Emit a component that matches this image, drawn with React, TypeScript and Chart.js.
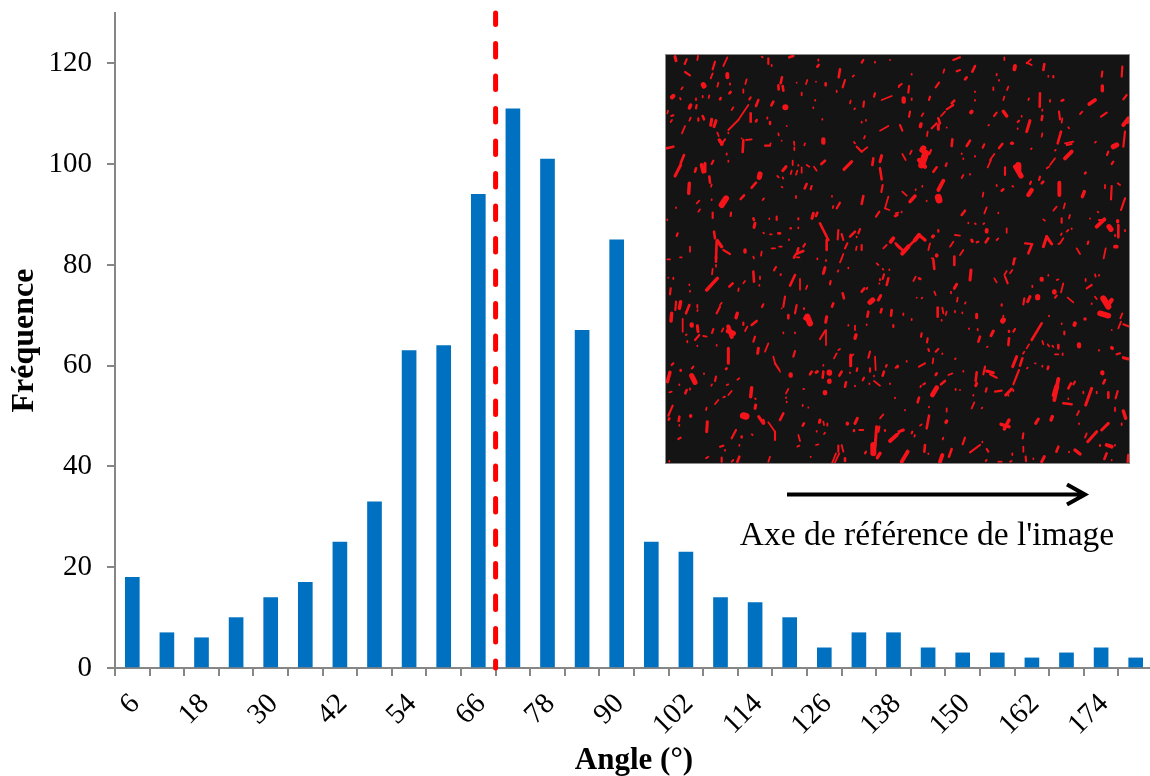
import React, { useEffect, useRef } from "react";
import { Chart, registerables } from "chart.js";

Chart.register(...registerables);

const angles = ["6","12","18","24","30","36","42","48","54","60","66","72","78","84","90","96","102","108","114","120","126","132","138","144","150","156","162","168","174","180"];
const frequencies = [18,7,6,10,14,17,25,33,63,64,94,111,101,67,85,25,23,14,13,10,4,7,7,4,3,3,2,3,4,2];
const referenceAngle = 69;
const yTop = 130;
const yLastTick = 120;
const yStep = 20;
const xTitle = "Angle (°)";
const yTitle = "Fréquence";
const caption = "Axe de référence de l'image";

// Speckles of the micrograph inset: x1,y1,x2,y2,width, on a 3x crop.
const specksA = [[45,20,48,32,7],[80,28,74,42,5],[114,18,112,30,4],[165,35,158,58,5],[202,22,190,48,4],[158,70,152,85,4],[75,66,90,76,5],[202,72,202,82,9],[130,104,132,108,12],[175,98,172,110,4],[210,100,210,104,4],[260,88,256,102,3],[250,118,250,128,4],[212,126,208,130,6],[68,112,64,118,3],[40,138,36,142,10],[60,144,62,148,3],[108,145,108,150,4],[148,136,146,144,4],[128,138,128,142,3],[182,144,180,148,6],[92,165,88,174,8],[110,165,108,175,5],[272,142,268,148,5],[295,150,288,168,6],[340,155,334,166,6],[366,82,362,100,6],[355,106,356,118,6],[368,108,370,122,6],[376,172,376,172,14],[220,172,215,180,4],[265,165,235,210,4],[235,210,205,240,4],[24,182,22,190,4],[40,196,34,198,5],[36,210,32,216,4],[92,203,88,212,3],[115,205,115,212,5],[128,198,132,208,6],[155,208,152,226,7],[168,212,162,230,7],[75,228,66,250,4],[272,190,272,215,6],[290,210,288,214,6],[322,202,322,206,4],[330,216,330,222,6],[172,248,176,258,3],[178,270,186,282,8],[195,268,183,284,5],[205,248,205,250,3],[250,270,248,306,6],[258,270,275,268,3],[245,265,245,265,3],[355,250,356,256,3],[380,228,380,228,3],[365,272,365,272,3],[315,287,330,287,5],[332,280,330,286,3],[20,295,40,290,6],[402,275,403,285,3],[403,292,403,300,3],[435,280,433,286,3],[490,268,490,278,10],[487,207,487,209,4],[465,150,466,152,3],[460,172,460,174,3],[425,128,425,136,3],[410,98,410,98,4],[442,90,438,102,4],[468,95,468,95,3],[497,100,497,106,6],[540,58,536,82,6],[582,76,578,80,3],[555,90,548,112,5],[530,122,530,126,3],[610,30,605,38,5],[645,35,645,38,3],[690,30,690,30,3],[475,28,475,32,4],[476,45,472,50,6],[325,25,325,42,5],[335,45,335,48,3],[305,20,308,22,3],[388,22,400,18,6],[645,130,642,140,5],[665,150,695,138,4],[572,152,570,160,4],[612,155,610,170,5],[585,175,583,178,3],[605,215,605,218,3],[618,210,618,212,3],[660,242,685,228,4],[718,106,716,112,3],[582,276,585,280,3],[590,290,605,305,5],[605,305,622,292,4],[615,258,612,265,4],[72,315,62,340,6],[62,345,45,378,7],[108,355,105,365,6],[125,345,130,365,9],[135,340,135,365,7],[160,332,155,342,5],[148,380,150,398,6],[155,403,153,410,4],[88,400,86,430,8],[200,310,200,314,2],[205,332,205,335,3],[378,350,368,362,7],[398,332,398,345,4],[415,345,415,347,3],[440,345,448,350,3],[462,350,470,362,3],[495,332,484,342,6],[425,352,425,368,2],[412,362,408,374,3],[395,362,392,372,3],[368,382,370,386,3],[352,378,356,382,3],[300,372,298,382,12],[288,398,275,413,6],[365,410,367,412,2],[440,402,434,415,6],[455,408,452,418,5],[575,335,552,358,7],[640,325,637,345,6],[665,317,660,335,7],[660,355,665,388,6],[668,405,664,426,5],[198,445,185,465,14],[252,436,242,447,6],[312,445,308,450,3],[408,438,408,444,3],[516,438,516,440,2],[540,458,530,475,5],[520,468,518,474,3],[610,438,605,462,6],[685,440,675,475,4],[675,475,688,480,4],[658,485,648,500,5],[712,495,705,498,6],[118,452,110,460,3],[120,478,115,485,3],[155,448,155,450,3],[48,472,48,474,4],[158,488,158,504,5],[213,488,212,498,5],[22,508,22,510,3],[280,505,282,510,6],[285,520,282,532,7],[328,505,328,507,3],[350,500,350,510,5],[392,535,392,535,6],[415,505,415,508,5],[415,532,415,535,3],[460,490,456,505,7],[472,488,468,498,6],[480,520,505,570,6],[500,570,500,600,6],[53,550,50,558,5],[162,545,165,565,6],[170,575,168,625,6],[172,572,185,590,8],[190,600,210,612,5],[255,600,255,606,8],[305,605,303,617,4],[280,620,282,625,3],[310,548,312,550,3],[330,553,335,553,3],[355,550,360,550,6],[387,568,387,570,3],[535,540,533,568,5],[545,552,550,570,5],[585,545,570,560,6],[600,537,595,550,5],[590,560,590,562,4],[562,580,555,595,5],[590,590,588,600,4],[605,585,605,600,5],[670,595,680,585,4],[700,565,692,575,9],[710,585,720,595,6],[335,595,345,595,4],[358,590,365,590,3],[435,582,430,590,5],[415,595,412,605,6],[430,603,408,612,6],[550,612,545,625,4],[472,625,472,628,3],[90,590,90,605,4],[22,628,30,628,3],[60,622,65,622,3],[410,622,418,622,3]];
const specksB = [[175,30,195,22,5],[328,22,328,30,3],[360,48,358,58,9],[395,38,410,45,3],[408,28,395,40,3],[448,42,445,60,6],[148,58,145,68,3],[195,60,185,64,5],[240,48,232,65,6],[215,82,210,88,6],[50,72,50,74,4],[305,72,305,76,3],[312,90,312,92,3],[475,78,475,82,5],[460,78,460,80,3],[622,65,620,80,5],[682,50,680,80,5],[20,102,12,108,5],[42,108,40,128,5],[132,98,122,112,5],[295,112,295,120,4],[340,110,336,120,4],[240,124,240,126,3],[622,108,622,122,8],[26,145,26,155,10],[50,145,50,150,4],[105,140,102,150,5],[240,150,240,152,4],[328,140,325,150,4],[435,130,434,170,6],[402,145,400,150,3],[465,150,465,155,3],[505,150,500,152,6],[600,150,583,162,9],[695,135,685,148,5],[178,152,170,160,6],[175,165,155,178,5],[150,185,138,198,3],[45,185,42,200,5],[85,190,80,198,4],[230,185,228,187,9],[305,188,297,198,5],[325,184,335,198,8],[442,178,442,182,4],[492,185,495,208,5],[502,205,500,218,3],[562,185,555,192,4],[635,188,618,200,5],[442,198,440,210,6],[380,198,380,200,4],[372,212,368,216,5],[405,212,395,245,7],[368,235,368,237,4],[15,225,22,242,5],[78,222,76,230,8],[130,205,135,220,6],[125,220,110,235,5],[130,225,130,238,7],[155,232,155,233,2],[98,245,96,258,4],[282,225,280,226,4],[442,250,440,260,3],[498,245,488,280,6],[520,232,522,235,3],[700,205,685,225,9],[698,205,698,218,6],[690,245,685,290,5],[665,285,655,290,12],[510,280,535,275,4],[515,285,530,282,3],[172,268,170,288,6],[225,272,215,288,6],[268,283,263,293,5],[322,282,312,294,6],[352,280,350,280,8],[410,295,408,297,3],[603,275,600,278,2],[220,280,218,282,3],[85,295,82,300,14],[92,310,80,345,16],[72,330,90,350,10],[108,300,103,312,5],[50,302,45,312,4],[22,312,32,330,4],[240,318,240,320,3],[200,310,200,312,2],[205,325,205,327,2],[298,312,285,330,4],[288,330,278,352,4],[530,305,510,325,9],[482,300,480,302,3],[480,325,465,345,4],[462,350,455,355,2],[640,305,636,315,5],[655,335,650,342,5],[155,340,152,348,5],[125,352,115,365,6],[362,350,378,378,12],[370,345,370,360,14],[330,352,330,375,5],[205,375,200,384,3],[225,372,225,374,2],[572,368,570,370,6],[435,380,432,390,5],[445,395,440,400,6],[408,395,405,402,5],[145,392,130,420,9],[305,405,305,408,3],[325,418,320,422,6],[352,408,355,410,3],[410,420,400,435,10],[493,398,493,435,9],[568,425,562,440,8],[650,408,648,448,5],[630,405,630,415,3],[668,400,675,405,3],[22,425,35,437,3],[62,418,62,420,2],[82,408,82,410,2],[60,438,45,455,8],[130,442,132,450,16],[95,452,95,453,2],[265,428,263,440,4],[690,445,678,480,5],[510,460,506,475,4],[485,470,475,482,3],[210,482,200,495,6],[275,472,268,490,4],[310,488,310,490,2],[2,490,10,488,4],[20,485,20,487,2],[445,508,450,512,4],[500,505,500,518,5],[525,495,522,505,3],[585,505,585,506,2],[608,485,610,487,3],[628,508,605,530,9],[612,510,630,510,5],[642,530,648,538,12],[668,512,668,515,8],[670,525,670,562,6],[690,540,690,544,3],[220,518,220,520,3],[240,520,242,522,3],[268,520,265,522,4],[275,540,275,545,9],[335,535,335,548,3],[310,565,305,570,4],[280,565,272,577,6],[250,575,245,577,5],[230,570,232,574,7],[520,540,515,545,3],[530,535,530,537,3],[500,550,498,555,3],[505,565,495,580,3],[580,575,578,582,5],[660,555,660,558,3],[665,590,660,590,9],[455,560,470,582,7],[455,560,445,590,7],[390,580,412,582,5],[410,585,400,610,6],[495,580,490,582,4],[545,595,555,612,4],[632,595,626,625,4],[72,555,60,570,10],[72,555,90,570,8],[60,570,40,590,6],[40,590,22,610,10],[2,580,22,600,6],[115,558,113,560,8],[130,540,130,545,5],[105,580,100,600,4],[180,555,195,557,2],[175,575,165,590,4],[205,600,195,615,3],[125,615,125,617,8],[110,625,115,625,3],[358,625,362,625,4]];
const specksC = [[168,5,168,20,6],[168,30,168,35,4],[158,42,156,58,4],[172,70,140,105,8],[40,68,40,72,3],[25,68,25,68,3],[32,100,30,118,5],[88,88,88,90,3],[90,108,90,110,2],[348,36,342,46,5],[362,58,362,60,5],[280,50,282,80,6],[300,65,300,72,3],[405,60,390,92,6],[420,72,420,104,3],[298,90,298,92,4],[255,78,250,85,3],[218,85,208,95,6],[236,100,235,108,3],[442,92,438,102,4],[405,2,402,8,6],[498,15,498,18,3],[495,38,490,55,7],[545,10,540,22,4],[565,38,565,40,3],[535,46,533,50,2],[512,78,510,88,5],[650,25,655,30,3],[668,42,670,44,2],[688,43,688,45,3],[672,58,668,72,5],[685,70,680,90,6],[660,72,660,76,3],[658,85,658,86,3],[613,100,605,110,6],[622,98,620,102,4],[548,115,552,130,6],[520,145,516,155,6],[662,122,655,135,7],[638,135,630,142,12],[48,140,46,165,5],[62,140,58,160,8],[88,150,78,175,6],[112,150,112,158,4],[113,165,112,168,3],[185,143,180,150,3],[180,155,170,175,5],[310,148,306,156,5],[375,125,370,155,5],[365,160,365,160,2],[410,150,405,175,5],[432,160,432,162,5],[385,180,385,190,6],[442,185,450,205,14],[435,190,445,195,9],[500,185,497,202,7],[232,175,228,188,8],[35,175,33,198,8],[68,192,68,230,4],[95,208,95,212,10],[112,212,114,230,7],[160,222,156,234,5],[190,220,185,230,3],[205,215,215,245,10],[205,228,220,235,12],[250,203,250,210,5],[290,198,275,210,6],[262,215,255,228,4],[285,245,280,260,5],[370,232,370,235,3],[405,232,405,235,3],[80,238,78,240,3],[118,240,105,255,5],[130,243,140,245,3],[82,258,82,262,3],[112,272,112,273,3],[170,270,170,272,2],[325,265,315,290,4],[295,280,293,295,7],[205,280,205,325,7],[200,340,198,342,6],[405,288,400,305,5],[340,305,345,325,3],[345,325,358,345,5],[360,350,360,350,3],[392,358,392,362,10],[498,225,498,270,4],[495,228,480,252,5],[565,210,565,212,3],[585,212,585,225,3],[588,240,585,250,8],[620,208,620,210,3],[625,170,622,185,6],[665,162,662,172,6],[695,165,693,182,6],[700,210,700,216,5],[540,282,535,285,3],[530,295,522,310,4],[572,300,572,332,7],[580,298,570,308,4],[630,290,625,308,5],[645,305,647,345,4],[490,330,490,332,3],[40,325,35,330,5],[100,335,96,340,5],[62,345,62,347,6],[30,352,22,380,8],[132,355,132,357,3],[95,362,105,382,12],[58,388,58,390,4],[168,365,165,378,5],[156,388,154,392,4],[238,370,232,374,3],[205,388,200,390,3],[90,400,90,404,3],[80,405,76,415,6],[35,410,28,412,2],[215,408,205,420,4],[195,425,190,427,3],[175,435,165,447,3],[275,398,272,425,8],[285,430,287,432,3],[385,402,378,415,4],[378,427,378,429,3],[430,402,432,402,3],[380,440,380,442,4],[287,450,285,460,7],[140,458,138,465,3],[38,452,25,482,5],[28,490,26,494,6],[58,485,56,498,6],[92,482,92,484,8],[58,510,58,512,2],[250,482,258,484,16],[296,485,310,505,7],[310,495,312,505,6],[325,502,345,530,4],[345,530,345,555,5],[370,475,360,495,6],[142,500,140,530,7],[62,548,55,552,5],[228,525,215,550,5],[245,545,245,547,6],[275,538,278,540,2],[455,350,450,358,6],[472,350,468,352,7],[490,350,488,368,6],[508,352,508,354,13],[545,350,538,362,6],[570,352,570,354,3],[592,340,590,348,5],[630,340,630,350,5],[642,362,642,364,4],[672,350,668,362,6],[680,330,678,335,5],[715,335,712,338,3],[612,368,608,376,5],[558,382,555,395,6],[585,392,585,394,3],[628,385,628,387,2],[642,378,660,392,3],[690,385,690,387,3],[508,378,508,380,11],[495,412,495,414,11],[428,450,428,453,3],[445,457,445,458,2],[705,428,705,430,4],[432,505,428,512,6],[480,495,478,502,7],[490,500,492,510,4],[502,505,502,512,2],[470,528,470,530,2],[495,533,492,537,3],[562,505,562,507,8],[592,490,585,505,7],[582,526,582,528,6],[598,525,610,525,3],[670,478,660,490,3],[415,540,420,558,4],[412,575,418,572,4],[180,575,190,572,5],[195,585,195,587,3],[238,570,238,572,3],[468,570,475,568,3],[650,515,645,575,7],[658,515,655,530,5],[675,525,675,528,5],[640,570,640,595,14],[660,595,652,608,8],[618,590,615,595,5],[710,540,690,558,9],[545,570,550,590,4],[535,572,535,590,5],[528,595,516,625,4],[538,595,525,622,3],[555,610,555,618,6],[145,605,138,610,4],[185,608,185,620,5],[238,605,232,620,6],[220,615,215,620,4],[330,605,325,620,3],[452,605,452,606,2],[28,618,28,620,4]];
const specksD = [[125,2,125,2,8],[115,15,118,42,6],[178,5,178,30,6],[358,12,355,28,6],[228,45,225,75,7],[335,48,328,60,4],[330,65,338,85,5],[352,45,345,55,4],[298,70,305,82,4],[62,65,55,78,3],[72,70,76,72,6],[185,88,178,100,7],[168,110,168,115,4],[118,110,122,120,3],[65,128,65,128,3],[82,128,80,130,3],[188,128,186,140,4],[212,142,210,146,3],[128,158,128,185,6],[142,158,145,175,3],[155,170,152,180,3],[180,168,180,172,3],[25,175,25,180,3],[50,192,50,195,3],[140,195,140,197,3],[245,178,245,188,7],[202,172,202,175,3],[325,195,323,198,12],[325,182,325,185,3],[222,220,222,222,3],[248,222,248,226,4],[295,228,288,242,7],[342,228,342,230,6],[360,222,355,230,5],[255,245,250,260,6],[342,250,340,270,6],[440,205,410,255,6],[402,268,395,280,3],[388,290,384,296,3],[365,305,353,335,7],[382,310,375,332,6],[372,345,355,388,5],[80,235,78,245,5],[98,250,96,262,5],[100,282,102,288,5],[130,282,122,290,5],[142,295,142,297,3],[182,310,180,312,3],[115,310,113,325,4],[90,325,72,335,5],[35,318,35,320,4],[8,332,2,338,5],[278,275,276,276,2],[270,335,265,358,5],[275,348,295,353,7],[285,358,305,368,5],[245,352,242,378,6],[245,385,242,392,7],[275,400,272,410,5],[300,410,320,407,5],[350,402,332,420,7],[205,348,205,350,2],[172,355,160,360,3],[150,378,138,388,6],[125,355,122,360,6],[90,385,85,388,5],[78,392,76,396,4],[125,398,112,420,11],[72,428,68,442,6],[182,402,182,405,3],[195,405,195,405,3],[235,420,235,422,4],[238,442,230,460,4],[262,458,260,460,3],[320,148,320,152,5],[340,420,340,422,3],[355,405,355,408,4],[388,130,385,148,5],[405,125,398,140,7],[428,125,428,128,12],[412,92,412,96,3],[440,72,440,74,10],[460,60,460,62,3],[485,75,490,73,4],[505,85,498,112,3],[478,110,478,112,11],[485,122,480,128,5],[518,128,535,142,3],[572,72,572,78,4],[600,58,602,65,4],[612,60,612,62,3],[590,90,575,100,5],[590,145,590,147,3],[600,125,605,132,3],[625,130,640,155,14],[650,135,640,148,10],[615,175,640,182,13],[682,175,676,190,3],[678,200,670,220,4],[685,208,700,214,5],[650,225,650,225,3],[570,192,570,192,8],[540,205,538,210,9],[500,205,500,207,3],[462,182,462,184,3],[508,230,508,238,5],[442,258,445,268,4],[458,268,462,274,4],[472,272,475,276,3],[490,270,490,280,6],[552,268,552,274,10],[480,298,490,298,3],[503,295,503,300,4],[612,285,612,287,3],[650,278,652,280,8],[665,298,675,295,5],[685,308,700,312,7],[420,325,422,325,3],[442,332,442,335,3],[460,335,458,342,6],[398,338,396,340,4],[622,352,622,355,10],[630,375,625,385,6],[490,372,478,435,9],[485,395,478,420,12],[540,380,535,388,5],[528,385,520,400,6],[565,410,565,415,3],[590,400,572,450,7],[605,410,605,415,3],[640,412,640,428,6],[668,408,662,430,5],[505,445,530,448,6],[520,430,520,432,3],[660,458,660,468,3],[685,468,692,490,8],[552,468,546,480,4],[680,505,680,510,3],[155,460,155,470,3],[102,482,95,520,6],[155,498,153,502,8],[30,465,30,466,2],[102,455,102,457,2],[80,508,75,512,3],[430,492,422,505,7],[472,485,468,495,8],[552,505,552,507,3],[342,495,328,522,8],[318,508,342,515,8],[640,505,620,525,7],[605,530,578,560,7],[575,535,570,548,4],[12,530,25,525,7],[5,538,12,535,5],[52,530,50,535,5],[60,540,58,545,3],[385,535,383,550,5],[145,548,143,553,3],[210,548,203,568,5],[255,570,225,592,5],[90,570,88,590,6],[38,590,20,620,9],[100,595,100,597,3],[170,582,162,605,6],[142,600,135,620,9],[275,582,280,590,5],[262,560,262,562,2],[352,595,352,600,3],[385,575,385,590,3],[392,605,393,618,5],[415,610,415,612,3],[448,605,440,620,7],[490,575,484,590,6],[522,590,522,592,4],[540,585,555,597,8],[615,570,615,573,5],[635,570,650,575,9],[660,570,660,572,4],[635,595,628,612,6],[650,615,650,616,3],[700,600,698,620,6],[350,618,345,620,4],[310,620,320,620,3],[275,615,272,618,3]];

const FONT = '"Liberation Serif", serif';
const AXIS_GREY = "#868686";

const insetPlugin = {
  id: "inset",
  afterDraw(chart: any) {
    const ctx = chart.ctx;
    const box = { x: 666, y: 55, w: 463, h: 408 };
    ctx.save();
    ctx.fillStyle = "#141414";
    ctx.fillRect(box.x, box.y, box.w, box.h);
    ctx.beginPath();
    ctx.rect(box.x, box.y, box.w, box.h);
    ctx.clip();
    ctx.strokeStyle = "#f5141a";
    ctx.lineCap = "round";
    ctx.filter = "blur(0.35px)";
    const tiles: [number[][], number, number][] = [
      [specksA, 660, 50],
      [specksB, 895, 50],
      [specksC, 660, 255],
      [specksD, 895, 255],
    ];
    for (const [specks, ox, oy] of tiles) {
      for (const [x1, y1, x2, y2, w] of specks) {
        ctx.lineWidth = Math.max(1.8, (w / 3) * 1.3);
        ctx.beginPath();
        ctx.moveTo(ox + x1 / 3, oy + y1 / 3);
        ctx.lineTo(ox + x2 / 3 + 0.01, oy + y2 / 3);
        ctx.stroke();
      }
    }
    ctx.restore();

    ctx.save();
    ctx.strokeStyle = "#8a8a8a";
    ctx.lineWidth = 1;
    ctx.strokeRect(box.x - 0.5, box.y - 0.5, box.w + 1, box.h + 1);
    ctx.strokeStyle = "#000";
    ctx.lineWidth = 4;
    ctx.beginPath();
    ctx.moveTo(787, 494.5);
    ctx.lineTo(1084, 494.5);
    ctx.moveTo(1067, 484.5);
    ctx.lineTo(1085, 494.5);
    ctx.lineTo(1067, 504.5);
    ctx.stroke();
    ctx.fillStyle = "#000";
    ctx.font = `33.5px ${FONT}`;
    ctx.textAlign = "center";
    ctx.textBaseline = "alphabetic";
    ctx.fillText(caption, 927, 545);
    ctx.restore();
  },
};

export default function App() {
  const ref = useRef<HTMLCanvasElement>(null);
  useEffect(() => {
    const chart = new Chart(ref.current as HTMLCanvasElement, {
      type: "bar",
      data: {
        labels: angles,
        datasets: [
          {
            type: "line",
            data: [{ x: referenceAngle, y: yTop }, { x: referenceAngle, y: 0 }],
            xAxisID: "angle",
            yAxisID: "y",
            borderColor: "#ff0000",
            borderWidth: 5,
            borderDash: [13.5, 19],
            borderDashOffset: 2,
            borderCapStyle: "round",
            pointRadius: 0,
            clip: false,
            order: 0,
          } as any,
          {
            type: "bar",
            data: frequencies,
            backgroundColor: "#0070c0",
            borderWidth: 0,
            grouped: false,
            barThickness: 14,
            order: 1,
          } as any,
        ],
      },
      options: {
        responsive: false,
        animation: false,
        layout: { padding: { top: 13, left: 0, right: 0, bottom: 0 } },
        plugins: { legend: { display: false }, tooltip: { enabled: false } },
        scales: {
          x: {
            type: "category",
            afterFit(scale: any) {
              scale.height = 776 - 668;
              scale.paddingLeft = 0;
              scale.paddingRight = 0;
            },
            grid: { drawOnChartArea: false, drawTicks: true, tickLength: 8, color: AXIS_GREY, lineWidth: 2, offset: true },
            border: { color: AXIS_GREY, width: 2 },
            ticks: {
              autoSkip: false,
              maxRotation: 45,
              minRotation: 45,
              padding: 11,
              labelOffset: 3,
              color: "#000",
              font: { family: FONT, size: 29 },
              callback(this: any, value: any, index: number) {
                return index % 2 === 0 ? this.getLabelForValue(value) : "";
              },
            },
            title: { display: true, text: xTitle, color: "#000", font: { family: FONT, size: 31, weight: "bold", lineHeight: 1 }, padding: { top: 0, bottom: 0 } },
          },
          angle: { type: "linear", axis: "x", display: false, offset: false, min: 3, max: 183 },
          y: {
            min: 0,
            max: yTop,
            afterFit(scale: any) {
              scale.width = 115;
              scale.paddingTop = 0;
              scale.paddingBottom = 0;
            },
            afterBuildTicks(scale: any) {
              scale.ticks = scale.ticks.filter((t: any) => t.value <= yLastTick);
            },
            grid: { drawOnChartArea: false, drawTicks: true, tickLength: 8, color: AXIS_GREY, lineWidth: 2 },
            border: { color: AXIS_GREY, width: 2 },
            ticks: { stepSize: yStep, padding: 15, color: "#000", font: { family: FONT, size: 29 } },
            title: { display: true, text: yTitle, color: "#000", font: { family: FONT, size: 32, weight: "bold", lineHeight: 1 }, padding: { top: 9, bottom: 0 } },
          },
        },
      } as any,
      plugins: [insetPlugin],
    });
    return () => chart.destroy();
  }, []);
  return (
    <div style={{ position: "fixed", left: 0, top: 0, width: 1150, height: 776, overflow: "hidden", background: "#fff" }}>
      <canvas ref={ref} width={1153} height={776} style={{ display: "block" }} />
    </div>
  );
}
